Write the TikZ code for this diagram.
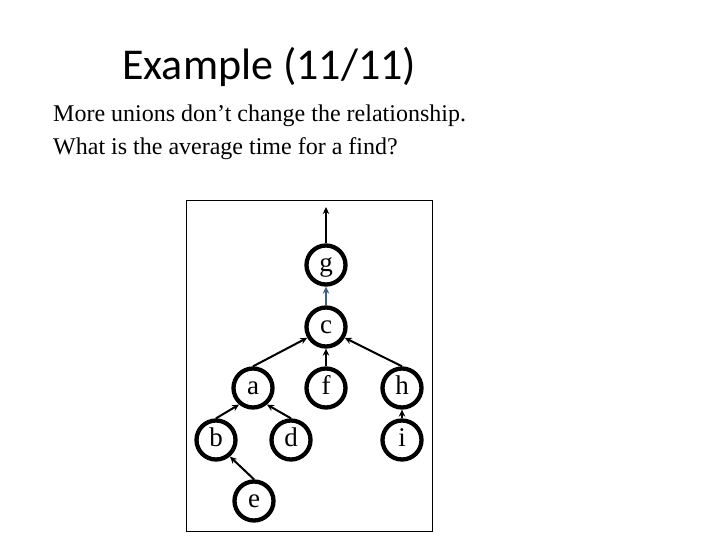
\documentclass[tikz,border=0pt]{standalone}
\usepackage{fontspec}
\setmainfont{Liberation Serif}
\newfontfamily\titlefont{Carlito}
\usetikzlibrary{arrows.meta}
\definecolor{slate}{HTML}{3F5F7F}
\begin{document}
\begin{tikzpicture}[x=1pt,y=-1pt,
  vtx/.style={circle,draw,line width=4.3pt,minimum size=39pt,inner sep=0pt,text height=12.4pt,text depth=0pt,font=\fontsize{27}{29}\selectfont},
  edge/.style={line width=2pt,-{Stealth[length=7pt,width=6.5pt]}},
  txt/.style={anchor=base west,inner sep=0pt}]
\useasboundingbox (0,0) rectangle (720,540);
\node[txt,font=\titlefont\fontsize{44}{48}\selectfont] (title) at (122,80) {Example (11/11)};
\node[txt,font=\fontsize{24}{28}\selectfont] (l1) at (53,122) {More unions don’t change the relationship.};
\node[txt,font=\fontsize{24}{28}\selectfont] (l2) at (53,155) {What is the average time for a find?};
\draw[line width=1pt] (186,201) rectangle (432,531);
\node[vtx] (g) at (326,265) {g};
\node[vtx] (c) at (326,327) {c};
\node[vtx] (a) at (253,388) {a};
\node[vtx] (f) at (326,388) {f};
\node[vtx] (h) at (402,388) {h};
\node[vtx] (b) at (216,440) {b};
\node[vtx] (d) at (291,440) {d};
\node[vtx] (i) at (402,440) {i};
\node[vtx] (e) at (254,501) {e};
\coordinate (top) at (326,207);
\draw[edge] (g) -- (top);
\draw[edge,slate] (c) -- (g);
\draw[edge] (a.north) -- (c.210);
\draw[edge] (f) -- (c);
\draw[edge] (h.north) -- (c.330);
\draw[edge] (b.north) -- (a.230);
\draw[edge] (d.north) -- (a.310);
\draw[edge] (i) -- (h);
\draw[edge] (e.north) -- (b.310);
\end{tikzpicture}
\end{document}
